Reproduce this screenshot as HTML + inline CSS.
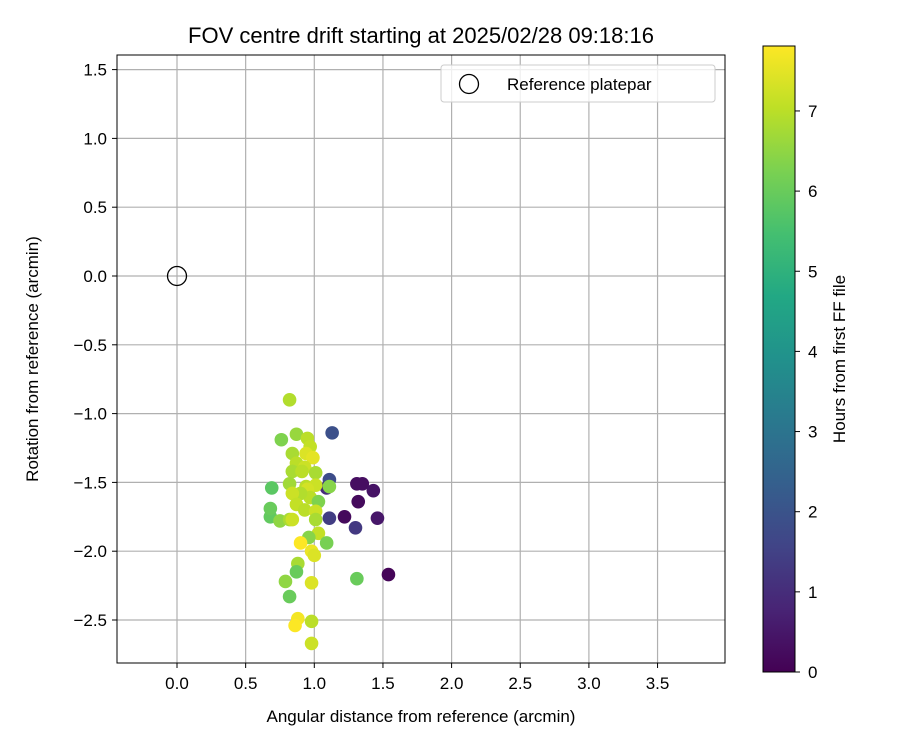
<!DOCTYPE html>
<html><head><meta charset="utf-8"><style>
body{margin:0;background:#fff;font-family:"Liberation Sans",sans-serif}
svg text{font-family:"Liberation Sans",sans-serif}
</style></head><body>
<svg id="chart" width="900" height="750" xmlns="http://www.w3.org/2000/svg">
<rect width="900" height="750" fill="#fff"/>
<text x="421" y="43" font-size="22" text-anchor="middle">FOV centre drift starting at 2025/02/28 09:18:16</text>
<g id="grid"></g><g id="pts"></g>
<rect x="117" y="55" width="608" height="608" fill="none" stroke="#000" stroke-width="1"/>
<g id="ticks"></g>
<text x="421" y="722" font-size="17" text-anchor="middle">Angular distance from reference (arcmin)</text>
<text transform="translate(38,359) rotate(-90)" font-size="17" text-anchor="middle">Rotation from reference (arcmin)</text>
<g>
<rect x="441" y="65" width="274" height="37" rx="3" fill="#fff" stroke="#ccc" fill-opacity="0.8"/>
<circle cx="469" cy="84" r="9.5" fill="none" stroke="#000" stroke-width="1.3"/>
<text x="507" y="90" font-size="17">Reference platepar</text>
</g>
<defs><linearGradient id="vir" x1="0" y1="1" x2="0" y2="0">
<stop offset="0" stop-color="#440154"/><stop offset="0.1" stop-color="#482475"/><stop offset="0.2" stop-color="#414487"/><stop offset="0.3" stop-color="#355f8d"/><stop offset="0.4" stop-color="#2a788e"/><stop offset="0.5" stop-color="#21918c"/><stop offset="0.6" stop-color="#22a884"/><stop offset="0.7" stop-color="#44bf70"/><stop offset="0.8" stop-color="#7ad151"/><stop offset="0.9" stop-color="#bddf26"/><stop offset="1" stop-color="#fde725"/>
</linearGradient></defs>
<rect x="763" y="46" width="32" height="626" fill="url(#vir)" stroke="#000" stroke-width="1"/>
<g id="cbticks"></g>
<text transform="translate(845,359) rotate(-90)" font-size="17" text-anchor="middle">Hours from first FF file</text>
</svg>
<script>
const xs=[0.82,1.13,0.76,0.87,0.95,0.97,0.84,0.94,0.99,0.87,0.93,0.84,0.91,1.01,1.11,1.09,1.31,1.35,1.43,1.32,0.69,0.82,0.94,1.01,0.95,1.11,0.97,0.90,0.84,1.03,0.87,0.68,0.68,0.75,0.82,0.84,0.93,1.01,1.01,1.11,1.22,1.46,1.30,1.03,0.96,1.09,0.90,0.98,1.00,0.88,0.87,0.79,0.82,0.98,1.31,1.54,0.88,0.86,0.98,0.98];
const ys=[-0.90,-1.14,-1.19,-1.15,-1.18,-1.24,-1.29,-1.29,-1.32,-1.36,-1.39,-1.42,-1.42,-1.43,-1.48,-1.54,-1.51,-1.51,-1.56,-1.64,-1.54,-1.51,-1.53,-1.52,-1.55,-1.53,-1.61,-1.58,-1.58,-1.64,-1.66,-1.75,-1.69,-1.78,-1.77,-1.77,-1.70,-1.71,-1.77,-1.76,-1.75,-1.76,-1.83,-1.87,-1.90,-1.94,-1.94,-2.00,-2.03,-2.09,-2.15,-2.22,-2.33,-2.23,-2.20,-2.17,-2.49,-2.54,-2.51,-2.67];
const hours=[6.9,1.9,6.3,6.6,7.0,7.1,6.8,7.4,7.5,7.0,7.2,6.8,7.0,6.8,1.8,1.0,0.3,0.3,0.4,0.2,5.8,6.7,7.0,7.2,7.3,6.4,7.0,6.9,7.2,6.3,7.1,5.9,6.0,6.5,6.8,7.2,7.0,7.2,6.8,1.4,0.2,0.5,1.3,7.1,6.4,6.2,7.8,7.6,7.4,6.8,6.0,6.5,6.0,7.4,6.0,0.1,7.7,7.8,7.0,7.2];
const xTicks=[0,0.5,1,1.5,2,2.5,3,3.5];
const yTicks=[1.5,1,0.5,0,-0.5,-1,-1.5,-2,-2.5];
const cTicks=[0,1,2,3,4,5,6,7];
const X=v=>177+v*137.3, Y=v=>276-v*137.6, C=v=>672-v*80.15;
const stops=["#440154","#482475","#414487","#355f8d","#2a788e","#21918c","#22a884","#44bf70","#7ad151","#bddf26","#fde725"];
function hex(h){return [1,3,5].map(i=>parseInt(h.substr(i,2),16));}
function vir(v){let t=Math.max(0,Math.min(1,v/7.81))*10,i=Math.min(9,Math.floor(t)),f=t-i,a=hex(stops[i]),b=hex(stops[i+1]);return "rgb("+a.map((c,k)=>Math.round(c+(b[k]-c)*f)).join(",")+")";}
const NS="http://www.w3.org/2000/svg";
function mk(tag,attrs,parent){const e=document.createElementNS(NS,tag);for(const k in attrs)e.setAttribute(k,attrs[k]);document.getElementById(parent).appendChild(e);return e;}
const fmt=v=>(v<0?"\u2212":"")+Math.abs(v).toFixed(1);
xTicks.forEach(v=>{
const g=mk("line",{x1:X(v),x2:X(v),y1:55,y2:663,stroke:"#b0b0b0","stroke-width":1.2},"grid");


mk("line",{x1:X(v),x2:X(v),y1:663,y2:668,stroke:"#000"},"ticks");
const t=mk("text",{x:X(v),y:689,"font-size":17,"text-anchor":"middle"},"ticks");t.textContent=fmt(v);


});
yTicks.forEach(v=>{
const g=mk("line",{x1:117,x2:725,y1:Y(v),y2:Y(v),stroke:"#b0b0b0","stroke-width":1.2},"grid");


mk("line",{x1:112,x2:117,y1:Y(v),y2:Y(v),stroke:"#000"},"ticks");
const t=mk("text",{x:107,y:Y(v)+6,"font-size":17,"text-anchor":"end"},"ticks");t.textContent=fmt(v);


});
cTicks.forEach(v=>{
mk("line",{x1:795,x2:800,y1:C(v),y2:C(v),stroke:"#000"},"cbticks");
const t=mk("text",{x:808,y:C(v)+6,"font-size":17},"cbticks");t.textContent=v;


});
const ref=mk("circle",{cx:X(0),cy:Y(0),r:9.5,fill:"none",stroke:"#000","stroke-width":1.3},"pts");


xs.forEach((x,i)=>{
const c=mk("circle",{cx:X(x),cy:Y(ys[i]),r:6.8,fill:vir(hours[i])},"pts");


});
</script>
</body></html>
